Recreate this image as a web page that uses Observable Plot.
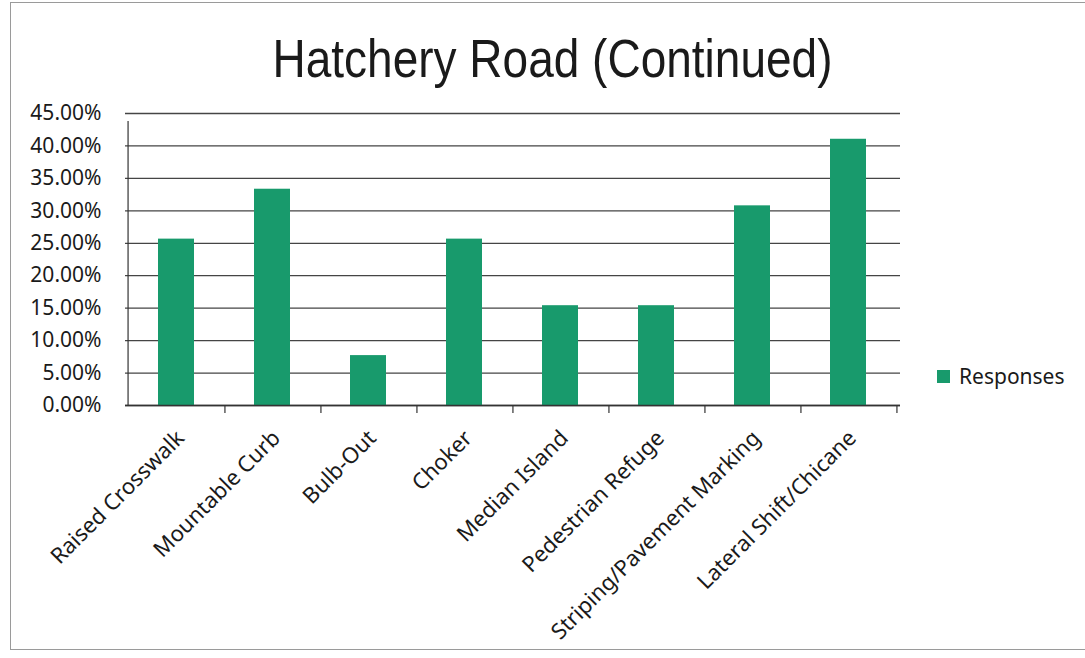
<!DOCTYPE html>
<html>
<head>
<meta charset="utf-8">
<script src="https://cdn.jsdelivr.net/npm/d3@7"></script>
<script src="https://cdn.jsdelivr.net/npm/@observablehq/plot@0.6"></script>
<style>
  html, body { margin: 0; padding: 0; background: #fff; }
  #wrap { position: relative; width: 1085px; height: 658px; overflow: hidden; background: #fff; }
  #border { position: absolute; left: 10px; top: 2px; right: -2px; bottom: 8px; border: 1.5px solid #9a9a9a; border-right: none; box-sizing: border-box; pointer-events: none; }
  #title { position: absolute; left: 0; width: 1105px; top: 28px; text-align: center; font-family: "Liberation Sans", Arial, sans-serif; font-size: 46px; color: #1a1a1a; transform: scaleY(1.15); transform-origin: top; }
  #legend { position: absolute; left: 937px; top: 362px; font-family: "Noto Sans", sans-serif; font-size: 21px; color: #1a1a1a; display: flex; align-items: center; }
  #legend .sw { width: 13px; height: 13px; margin-right: 9px; }
  #chart { position: absolute; left: 0; top: 0; }
</style>
</head>
<body>
<div id="wrap">
  <div id="chart"></div>
  <div id="title">Hatchery Road (Continued)</div>
  <div id="legend"></div>
  <div id="border"></div>
</div>
<script>
const categories = ["Raised Crosswalk", "Mountable Curb", "Bulb-Out", "Choker", "Median Island", "Pedestrian Refuge", "Striping/Pavement Marking", "Lateral Shift/Chicane"];
const responses = [0.2564, 0.3333, 0.0769, 0.2564, 0.1538, 0.1538, 0.3077, 0.4103];
const yTicks = [0, 0.05, 0.10, 0.15, 0.20, 0.25, 0.30, 0.35, 0.40, 0.45];
const seriesName = "Responses";
const barColor = "#189a6c";

const data = categories.map((c, i) => ({cat: c, val: responses[i]}));

const W = 1085, H = 658;
const mL = 125, mR = 185, mT = 113, mB = 253;
const step = (W - mL - mR) / categories.length;

const chart = Plot.plot({
  width: W,
  height: H,
  marginLeft: mL,
  marginRight: mR,
  marginTop: mT,
  marginBottom: mB,
  style: {fontFamily: "'Noto Sans', sans-serif", background: "transparent", color: "#1a1a1a"},
  x: {domain: categories, paddingInner: 0.62, paddingOuter: 0.31, axis: null, label: null},
  y: {domain: [0, 0.45], axis: null, label: null},
  marks: [
    Plot.ruleY(yTicks, {stroke: "#454545", strokeWidth: 1.3}),
    Plot.barY(data, {x: "cat", y: "val", fill: barColor}),
    Plot.axisY(yTicks, {tickSize: 0, tickPadding: 24, fontSize: 21, label: null, tickFormat: d => (d * 100).toFixed(2) + "%", fill: "#1a1a1a"}),
    // y axis line
    Plot.ruleX([categories[0]], {x: d => d, dx: -step / 2, y1: 0, y2: 0.45, insetBottom: -8, stroke: "#333", strokeWidth: 1.2}),
    // category boundary ticks
    Plot.ruleX(categories, {x: d => d, dx: step / 2, y1: 0, y2: 0, insetBottom: -8, stroke: "#333", strokeWidth: 1.2}),
    Plot.ruleY([0], {stroke: "#333", strokeWidth: 1.3}),
    Plot.text(categories, {x: d => d, y: 0, text: d => d, rotate: -45, textAnchor: "end", dx: 4, dy: 29, fontSize: 22, fill: "#1a1a1a"})
  ]
});
document.getElementById("chart").appendChild(chart);

const lg = document.getElementById("legend");
lg.innerHTML = `<div class="sw" style="background:${barColor}"></div><span>${seriesName}</span>`;
</script>
</body>
</html>
